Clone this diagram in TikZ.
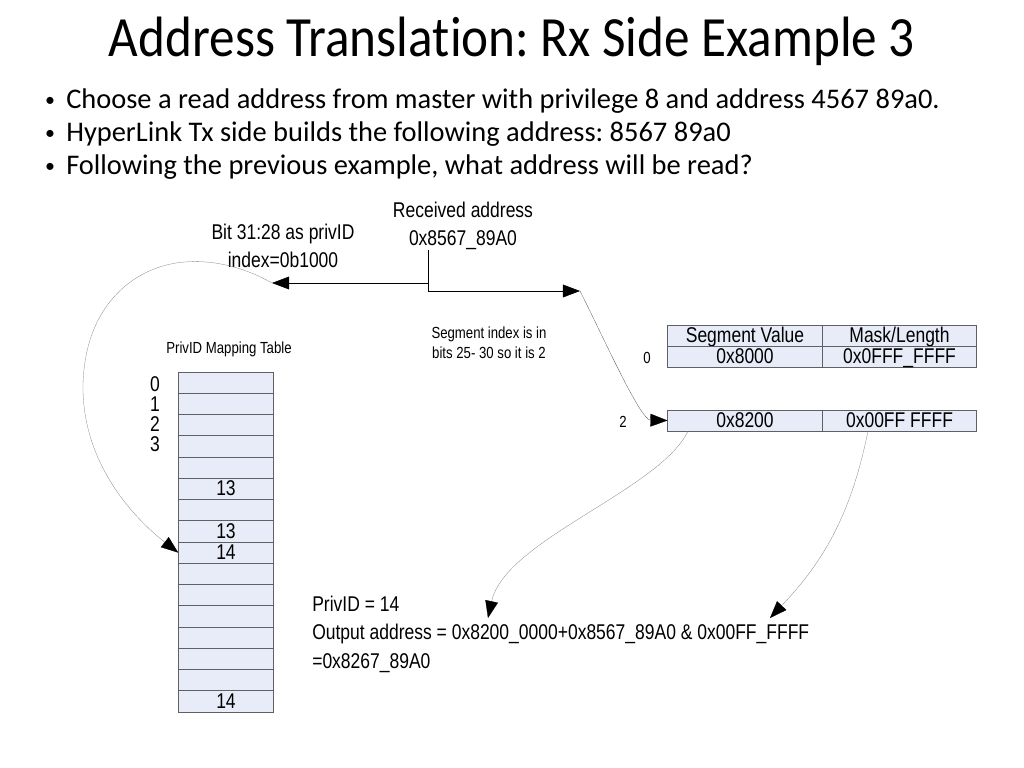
\documentclass[tikz,border=0pt]{standalone}
\usepackage{fontspec}
\setmainfont[RawFeature={-liga;-clig;-calt}]{Carlito}
\newfontfamily\titlefont[FakeStretch=0.9, RawFeature={-liga;-clig;-calt}]{Carlito}
\newfontfamily\narrowsans[FakeStretch=0.82]{Liberation Sans}
\usetikzlibrary{arrows.meta}
\frenchspacing
\definecolor{cellfill}{RGB}{232,236,248}
\definecolor{cellline}{RGB}{95,95,100}
\newcommand{\diagfont}{\narrowsans\fontsize{15}{20}\selectfont}
\newcommand{\notefont}{\narrowsans\fontsize{11.3}{14}\selectfont}
\tikzstyle{map cell}=[draw=cellline, fill=cellfill, minimum width=66.8pt, minimum height=14.94pt, inner sep=0pt]
\tikzstyle{seg cell}=[draw=cellline, fill=cellfill, minimum width=108.6pt, minimum height=14.8pt, inner sep=0pt, text height=10.8pt, text depth=1.2pt, font=\diagfont]
\tikzstyle{cell text}=[inner sep=0pt, text height=10.8pt, text depth=1.2pt, font=\diagfont]
\tikzstyle{diag text}=[align=center, inner sep=0pt, font=\diagfont]
\tikzstyle{note text}=[align=center, inner sep=0pt, font=\notefont]
\tikzstyle{bullet line}=[anchor=west, inner sep=0pt, font=\fontsize{20}{24}\selectfont]
\tikzstyle{bullet dot}=[inner sep=0pt, font=\fontsize{14}{16}\selectfont]
\tikzstyle{wire}=[black, thin]
\tikzstyle{pointer}=[wire, -{Triangle[length=12pt, width=9pt]}]
\tikzstyle{link}=[draw=gray, very thin, -{Triangle[length=12pt, width=9pt, color=black]}]

\begin{document}
\begin{tikzpicture}[x=0.703125pt, y=-0.703125pt]
  \useasboundingbox (0,0) rectangle (1024,768);
  % slide text
  \node[font=\titlefont\fontsize{40}{48}\selectfont, inner sep=0pt] (title) at (512, 41) {Address Transla\kern0pt tion: Rx Side Example 3};
  \node[bullet line] (bullet1) at (66, 101) {Choose a read address from master with privilege 8 and address 4567 89a0.};
  \node[bullet line] (bullet2) at (66, 134) {HyperLink Tx side builds the following address: 8567 89a0};
  \node[bullet line] (bullet3) at (66, 167) {Following the previous example, what address will be read?};
  \node[bullet dot] (dot1) at (50, 102) {•};
  \node[bullet dot] (dot2) at (50, 135) {•};
  \node[bullet dot] (dot3) at (50, 168) {•};

  % received address and its two fields
  \node[diag text] (recv) at (463, 226) {Received address\\0x8567\_89A0};
  \node[diag text] (privfield) at (283, 246) {Bit 31:28 as privID\\index=0b1000};
  \node[note text] (segnote) at (489, 343) {Segment index is in\\bits 25- 30 so it is 2};
  \coordinate (tap) at (428, 250);
  \coordinate (split) at (428, 283);
  \coordinate (bend) at (428, 291);
  \coordinate (privtip) at (272, 283);
  \coordinate (segtip) at (580, 291);
  \draw[wire] (tap) -- (bend);
  \draw[pointer] (split) -- (privtip);
  \draw[pointer] (bend) -- (segtip);

  % privID mapping table
  \node[note text] (maptitle) at (229, 349) {PrivID Mapping Table};
  \foreach \i in {0,...,15}
    \node[map cell] (row\i) at (226, {382.625+21.25*\i}) {};
  \node[cell text] at (row5) {13};
  \node[cell text] at (row7) {13};
  \node[cell text] at (row8) {14};
  \node[cell text] at (row15) {14};
  \node[align=center, inner sep=0pt, font=\narrowsans\fontsize{15}{14}\selectfont] (mapidx) at (155, 414) {0\\1\\2\\3};

  % segment table
  \node[seg cell] (headval) at (745, 335.5) {Segment Value};
  \node[seg cell] (headmask) at (899.5, 335.5) {Mask/Length};
  \node[seg cell] (seg0val) at (745, 356.5) {0x8000};
  \node[seg cell] (seg0mask) at (899.5, 356.5) {0x0FFF\_FFFF};
  \node[seg cell] (seg2val) at (745, 420.5) {0x8200};
  \node[seg cell] (seg2mask) at (899.5, 420.5) {0x00FF FFFF};
  \node[note text] (seg0idx) at (647, 358) {0};
  \node[note text] (seg2idx) at (623, 422) {2};

  % result
  \node[align=left, anchor=west, inner sep=0pt, font=\diagfont] (result) at (312, 634) {PrivID = 14\\Output address = 0x8200\_0000+0x8567\_89A0 \& 0x00FF\_FFFF\\=0x8267\_89A0};
  \coordinate (valfrom) at (688, 431);
  \coordinate (maskfrom) at (868, 431);
  \coordinate (valtip) at (488, 618);
  \coordinate (masktip) at (770, 618);

  % curved links
  \draw[link] (privtip) .. controls (240,265) and (210,260) .. (185,262)
    .. controls (140,265) and (85,300) .. (83,385)
    .. controls (82,460) and (130,515) .. (row8.west);
  \draw[link, draw=black!70] (segtip) .. controls (600,330) and (640,420) .. (seg2val.west);
  \draw[link] (valfrom) .. controls (660,490) and (505,540) .. (valtip);
  \draw[link] (maskfrom) .. controls (850,520) and (820,565) .. (masktip);
\end{tikzpicture}
\end{document}
